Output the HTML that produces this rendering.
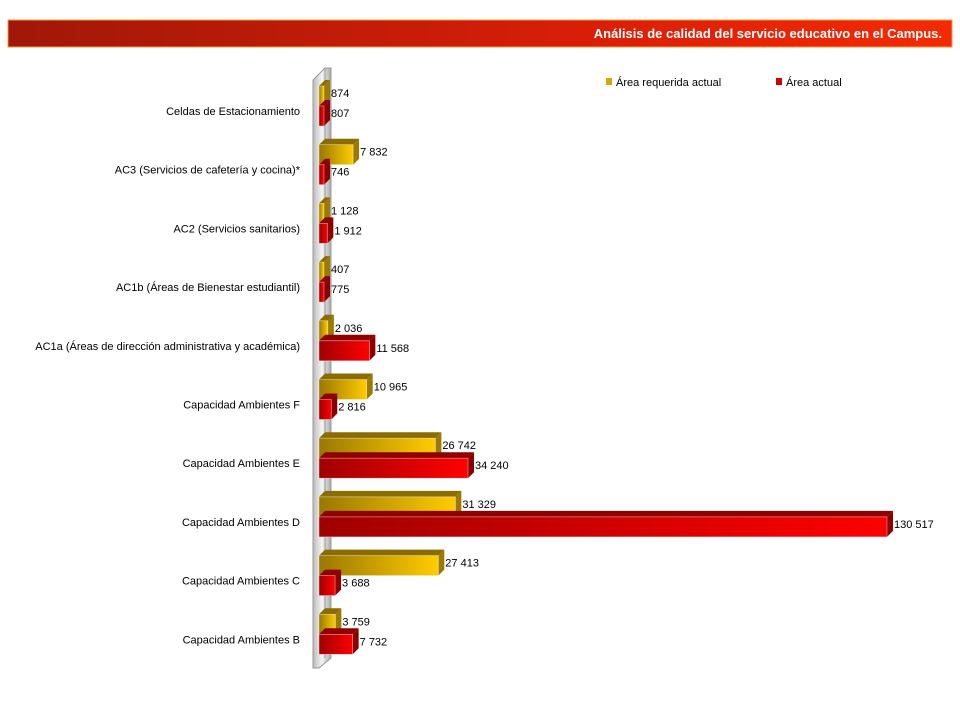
<!DOCTYPE html>
<html><head><meta charset="utf-8"><style>
body{margin:0;background:#fff;width:960px;height:720px;overflow:hidden;font-family:"Liberation Sans",sans-serif}
</style></head><body>
<svg width="960" height="720" xmlns="http://www.w3.org/2000/svg">
<defs>
<linearGradient id="ban" x1="0" x2="1"><stop offset="0" stop-color="#a01808"/><stop offset="0.6" stop-color="#d81e08"/><stop offset="1" stop-color="#f42a04"/></linearGradient>
<linearGradient id="gold" x1="0" x2="1"><stop offset="0" stop-color="#9a7800"/><stop offset="1" stop-color="#ffcc00"/></linearGradient>
<linearGradient id="red" x1="0" x2="1"><stop offset="0" stop-color="#a00000"/><stop offset="1" stop-color="#ff0000"/></linearGradient>
<linearGradient id="wall" x1="0" x2="1"><stop offset="0" stop-color="#bbb"/><stop offset="0.5" stop-color="#f4f4f4"/><stop offset="1" stop-color="#aaa"/></linearGradient>
</defs>
<rect x="8" y="20" width="944" height="27" fill="url(#ban)" stroke="#f29a3a" stroke-width="1"/>
<text x="942" y="38" fill="#fff" font-size="13" font-weight="bold" text-anchor="end">Análisis de calidad del servicio educativo en el Campus.</text>
<g>
<rect x="606" y="78" width="6" height="7" fill="#d4a800"/><text x="616" y="86" font-size="11" fill="#000">Área requerida actual</text>
<rect x="776" y="78" width="6" height="7" fill="#d00000"/><text x="786" y="86" font-size="11" fill="#000">Área actual</text>
</g>
<polygon points="313,80 325,68 331,68 331,658 319,668 313,668" fill="url(#wall)" stroke="#999" stroke-width="1"/>
<line x1="325" y1="68" x2="325" y2="658" stroke="#999"/>
<g id="bars"></g>
</svg>
<script>
const categories=["Celdas de Estacionamiento","AC3 (Servicios de cafetería y cocina)*","AC2 (Servicios sanitarios)","AC1b (Áreas de Bienestar estudiantil)","AC1a (Áreas de dirección administrativa y académica)","Capacidad Ambientes F","Capacidad Ambientes E","Capacidad Ambientes D","Capacidad Ambientes C","Capacidad Ambientes B"];
const requerida=[874,7832,1128,407,2036,10965,26742,31329,27413,3759];
const actual=[807,746,1912,775,11568,2816,34240,130517,3688,7732];
const fmt=v=>String(v).replace(/\B(?=(\d{3})+(?!\d))/g,' ');
const x0=319,k=568/130517;
const xs=v=>Math.max(5,v*k);
const yc=i=>111+i*58.7;
const g=document.getElementById('bars');
const NS='http://www.w3.org/2000/svg';
function mk(t,a){const e=document.createElementNS(NS,t);for(const n in a)e.setAttribute(n,a[n]);g.appendChild(e);return e;}
function bar(v,y,fill,top,side,name){
 const w=xs(v),d=6,h=20;
 const grp=document.createElementNS(NS,'g');
 
 
 g.appendChild(grp);
 const add=(t,a)=>{const e=document.createElementNS(NS,t);for(const n in a)e.setAttribute(n,a[n]);grp.appendChild(e);return e;};
 add('polygon',{points:`${x0},${y} ${x0+d},${y-d} ${x0+w+d},${y-d} ${x0+w},${y}`,fill:top});
 add('polygon',{points:`${x0+w},${y} ${x0+w+d},${y-d} ${x0+w+d},${y+h-d} ${x0+w},${y+h}`,fill:side});
 add('rect',{x:x0,y:y,width:w,height:h,fill:fill,stroke:'rgba(255,255,255,0.5)','stroke-width':0.7});
 const t=add('text',{x:x0+w+d+1,y:y+h/2+1,'font-size':11,fill:'#000'});
 t.textContent=fmt(v);
}
categories.forEach((c,i)=>{
 const y=yc(i);
 const t=document.createElementNS(NS,'text');
 t.setAttribute('x',300);t.setAttribute('y',y+4);t.setAttribute('font-size',11);t.setAttribute('text-anchor','end');
 
 
 t.textContent=c;g.appendChild(t);
 bar(requerida[i],y-25,'url(#gold)','#8a6c00','#9a7a00','bar-requerida');
 bar(actual[i],y-5,'url(#red)','#900000','#8a0000','bar-actual');
});
</script>
</body></html>
